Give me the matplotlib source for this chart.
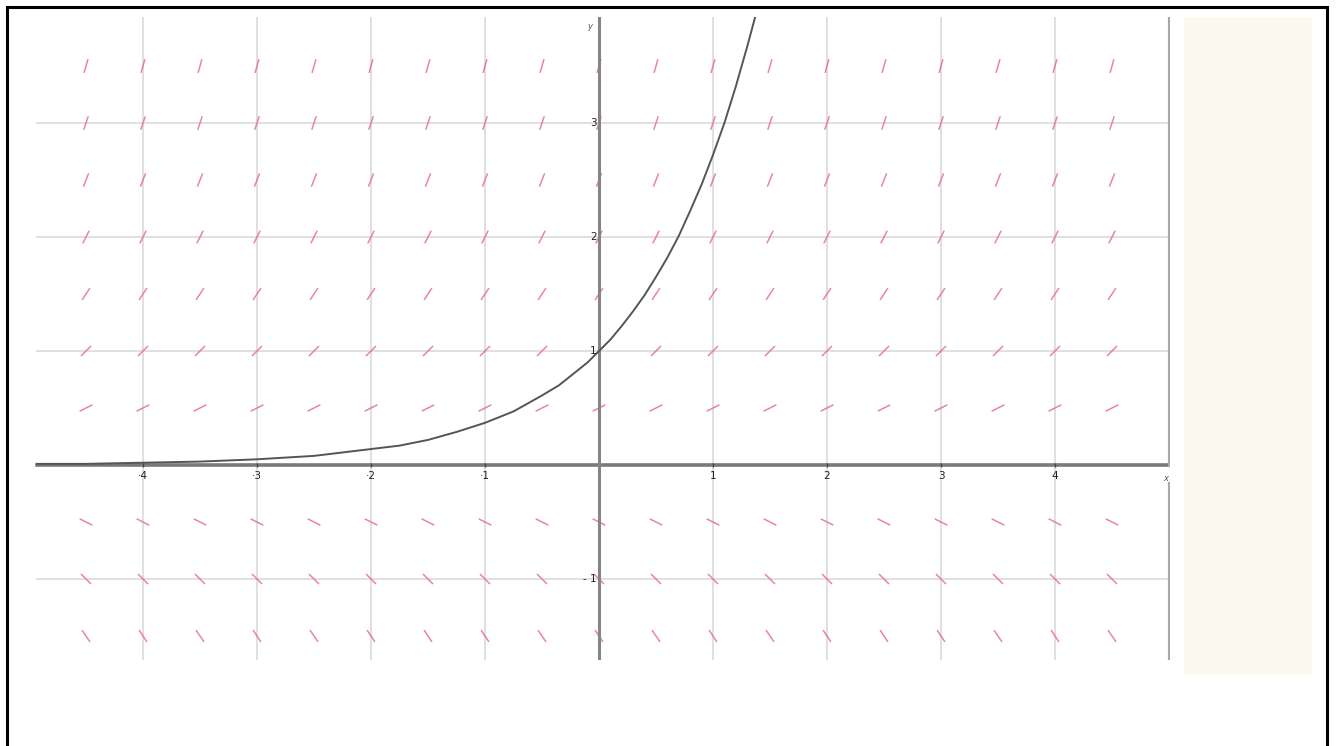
import numpy as np
import matplotlib.pyplot as plt
from matplotlib.patches import Rectangle

# slope field y' = y : grid of sample points and the slope drawn in each row
field_x = [-4.5, -4, -3.5, -3, -2.5, -2, -1.5, -1, -0.5, 0, 0.5, 1, 1.5, 2, 2.5, 3, 3.5, 4, 4.5]
field_y = [3.5, 3, 2.5, 2, 1.5, 1, 0.5, 0, -0.5, -1, -1.5]
row_slopes = [3.5, 3, 2.5, 2, 1.5, 1, 0.5, 0, -0.5, -1, -1.5]

# solution curve, points
curve_x = [-4.93, -4.5, -4, -3.5, -3, -2.5, -2, -1.75, -1.5, -1.25, -1, -0.75, -0.5, -0.35, -0.2,
           -0.1, 0, 0.1, 0.2, 0.3, 0.4, 0.5, 0.6, 0.7, 0.8, 0.9, 1, 1.1, 1.2, 1.3, 1.37]
curve_y = [0.01, 0.01, 0.02, 0.03, 0.05, 0.08, 0.14, 0.17, 0.22, 0.29, 0.37, 0.47, 0.61, 0.70, 0.82,
           0.90, 1.0, 1.10, 1.22, 1.35, 1.49, 1.65, 1.82, 2.01, 2.23, 2.46, 2.72, 3.0, 3.32, 3.67, 3.93]

xticks = [-4, -3, -2, -1, 1, 2, 3, 4]
yticks = [-1, 1, 2, 3]

W, H = 1336, 746
fig = plt.figure(figsize=(W / 100, H / 100), dpi=100)

# axes placed in pixels: 114 px per unit, origin at (599, 465)
x0, x1, y0, y1 = 25, 1170, 17, 660
ax = fig.add_axes([x0 / W, 1 - y1 / H, (x1 - x0) / W, (y1 - y0) / H])
ax.set_xlim((x0 - 599) / 114, (x1 - 599) / 114)
ax.set_ylim((465 - y1) / 114, (465 - y0) / 114)
ax.axis('off')

xmin, xmax = -4.93, (x1 - 599) / 114
ymin, ymax = ax.get_ylim()

# grid
for gx in range(-4, 5):
    ax.plot([gx, gx], [ymin, ymax], color='#dadada', lw=1.2, zorder=1)
for gy in [-1, 1, 2, 3]:
    ax.plot([xmin, xmax], [gy, gy], color='#dadada', lw=1.2, zorder=1)

# slope segments
half = 0.058
for yy, m in zip(field_y, row_slopes):
    dx = half / np.sqrt(1 + m * m)
    for xx in field_x:
        ax.plot([xx - dx, xx + dx], [yy - m * dx, yy + m * dx],
                color='#e8677e', lw=1.1, alpha=0.8, solid_capstyle='round', zorder=2)

# axes lines
ax.plot([xmin, xmax], [0, 0], color='#7a7a7a', lw=2.6, zorder=3)
ax.plot([0, 0], [ymin, ymax], color='#858585', lw=2.2, zorder=3)
# right frame line with a gap for the x label
ax.plot([xmax, xmax], [ymax, 0], color='#a8a8a8', lw=3, zorder=3)
ax.plot([xmax, xmax], [-0.17, ymin], color='#a8a8a8', lw=3, zorder=3)

# curve
ax.plot(curve_x, curve_y, color='#555555', lw=1.4, zorder=4)

# tick labels
for t in xticks:
    ax.text(t, -0.05, str(t).replace('-', '\u00b7'), fontsize=7.5, color='#222222',
            ha='center', va='top', zorder=5)
    ax.plot(t, 0, marker='|', color='#444444', ms=3, zorder=4)
for t in yticks:
    ax.text(-0.02, t, str(t).replace('-', '- '), fontsize=7.5, color='#222222',
            ha='right', va='center', zorder=5)
ax.text(-0.06, 3.85, 'y', fontsize=6, style='italic', color='#555555', ha='right', va='center')
ax.text(xmax - 0.04, -0.12, 'x', fontsize=6, style='italic', color='#555555', ha='center', va='center')

# side panel and outer frame
fig.add_artist(Rectangle((1184 / W, 1 - 675 / H), (1312 - 1184) / W, (675 - 17) / H,
                         transform=fig.transFigure, facecolor='#fafaf0', edgecolor='none'))
fig.add_artist(Rectangle((7 / W, -0.01), (1327 - 7) / W, 1 - 7 / H + 0.01,
                         transform=fig.transFigure, facecolor='none', edgecolor='black', lw=2.2))

fig.savefig('out.png', dpi=100)
